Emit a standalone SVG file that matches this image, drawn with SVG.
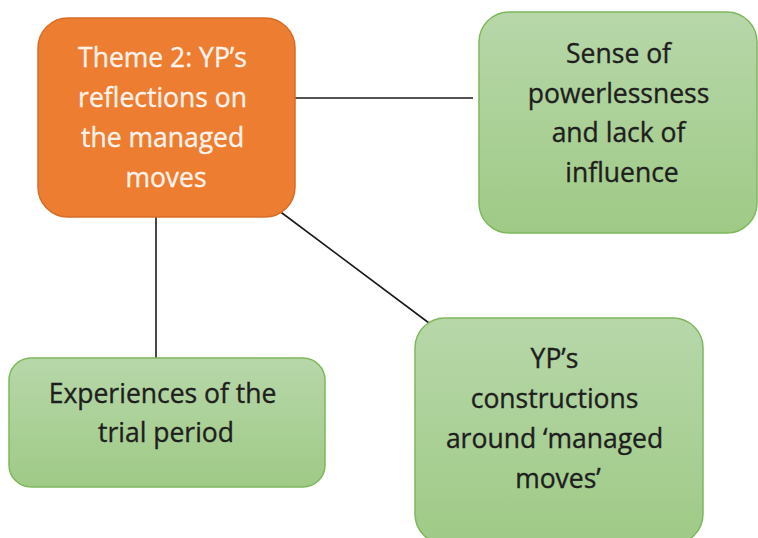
<svg xmlns="http://www.w3.org/2000/svg" width="758" height="538" viewBox="0 0 758 538">
  <defs>
    <linearGradient id="greenFill" x1="0" y1="0" x2="0" y2="1">
      <stop offset="0" stop-color="#b7d7a9"/>
      <stop offset="1" stop-color="#9fca86"/>
    </linearGradient>
    <style>
      .theme { fill: #ed7d31; stroke: #d66c26; stroke-width: 1.5; }
      .sub { fill: url(#greenFill); stroke: #7fb85c; stroke-width: 1.5; }
      .label { font-family: "Open Sans", "Liberation Sans", sans-serif; font-size: 26.5px; text-anchor: middle; stroke-width: 0.35; }
      .light { fill: #fdf3ec; stroke: #fdf3ec; }
      .dark { fill: #1e1e1e; stroke: #1e1e1e; }
      .link { stroke: #1a1a1a; stroke-width: 1.6; fill: none; }
    </style>
  </defs>
  <rect width="758" height="538" fill="#ffffff"/>

  <g id="connectors">
    <line class="link" x1="294" y1="98" x2="473" y2="98"/>
    <line class="link" x1="156" y1="217" x2="156" y2="358"/>
    <line class="link" x1="278" y1="210" x2="433" y2="326"/>
  </g>

  <g id="theme-2">
    <rect class="theme" x="38" y="18" width="257" height="199" rx="30" ry="30"/>
    <text class="label light">
      <tspan x="166" y="67">Theme 2: YP’s</tspan>
      <tspan x="166" y="107">reflections on</tspan>
      <tspan x="166" y="147">the managed</tspan>
      <tspan x="166" y="187">moves</tspan>
    </text>
  </g>

  <g id="powerlessness">
    <rect class="sub" x="479" y="12" width="278" height="221" rx="30" ry="30"/>
    <text class="label dark">
      <tspan x="622" y="63">Sense of</tspan>
      <tspan x="622" y="103">powerlessness</tspan>
      <tspan x="622" y="142">and lack of</tspan>
      <tspan x="622" y="182">influence</tspan>
    </text>
  </g>

  <g id="trial-period">
    <rect class="sub" x="9" y="358" width="316" height="129" rx="22" ry="22"/>
    <text class="label dark">
      <tspan x="166" y="403">Experiences of the</tspan>
      <tspan x="166" y="442">trial period</tspan>
    </text>
  </g>

  <g id="constructions">
    <rect class="sub" x="415" y="318" width="288" height="226" rx="30" ry="30"/>
    <text class="label dark">
      <tspan x="558" y="368">YP’s</tspan>
      <tspan x="558" y="408">constructions</tspan>
      <tspan x="558" y="448">around ‘managed</tspan>
      <tspan x="558" y="488">moves’</tspan>
    </text>
  </g>
</svg>
